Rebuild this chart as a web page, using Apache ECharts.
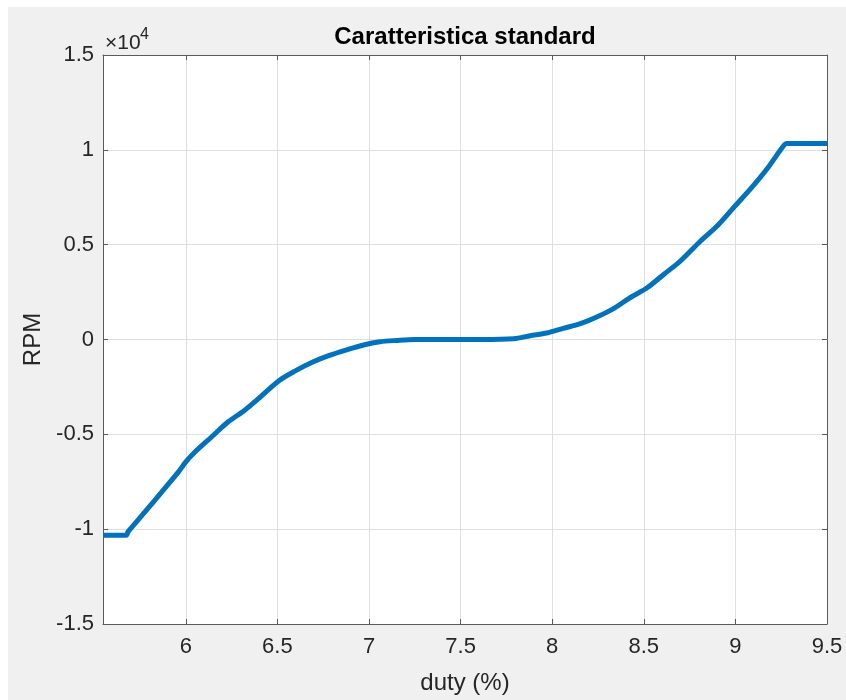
<!DOCTYPE html>
<html>
<head>
<meta charset="utf-8">
<script src="https://cdn.jsdelivr.net/npm/echarts@6/dist/echarts.min.js"></script>
<style>
html,body{margin:0;padding:0;background:#fff;}
#c{width:846px;height:700px;}
</style>
</head>
<body>
<div id="c"></div>
<script>
// Data
const dutyValues = [5.548, 5.60, 5.675, 5.685, 5.778, 5.869, 5.96, 6.00, 6.05, 6.14, 6.23, 6.32, 6.395, 6.51, 6.60, 6.69, 6.78, 6.88, 6.97, 7.06, 7.15, 7.25, 7.40, 7.61, 7.79, 7.88, 7.97, 8.06, 8.15, 8.24, 8.33, 8.42, 8.52, 8.61, 8.70, 8.81, 8.90, 8.99, 9.08, 9.17, 9.26, 9.28, 9.50];
const rpmValues = [-10320, -10320, -10320, -10130, -9080, -8030, -6980, -6450, -5930, -5140, -4350, -3740, -3130, -2160, -1640, -1200, -850, -540, -290, -120, -50, 0, 0, 0, 40, 200, 340, 590, 820, 1170, 1600, 2170, 2740, 3440, 4140, 5190, 5980, 6950, 7910, 8960, 10180, 10330, 10330];
const xTicks = [6, 6.5, 7, 7.5, 8, 8.5, 9, 9.5];
const titleText = 'Caratteristica standard';
const xName = 'duty (%)';
const yName = 'RPM';
const xMin = 5.548, xMax = 9.5, yMin = -15000, yMax = 15000;

const FONT = "'Liberation Sans', Arial, Helvetica, sans-serif";
const axisColor = '#5a5a5a';
const txtColor = '#262626';
const gridColor = '#dfdfdf';

const chart = echarts.init(document.getElementById('c'));
const seriesData = dutyValues.map((d, i) => [d, rpmValues[i]]);

chart.setOption({
  backgroundColor: '#f0f0f0',
  animation: false,
  textStyle: {fontFamily: FONT},
  grid: {left: 103, top: 55, right: 19, bottom: 74, show: true, backgroundColor: '#ffffff', borderWidth: 0},
  graphic: [
    {type: 'rect', left: 0, top: 0, shape: {width: 846, height: 7}, style: {fill: '#ffffff'}, z: -10, silent: true},
    {type: 'rect', left: 0, top: 0, shape: {width: 8, height: 700}, style: {fill: '#ffffff'}, z: -10, silent: true},
    {type: 'text', x: 465, y: 37, style: {text: titleText, font: 'bold 24px ' + FONT, fill: '#000', align: 'center', verticalAlign: 'middle'}},
    {type: 'text', x: 105, y: 43, style: {text: '\u00d710', font: '21px ' + FONT, fill: txtColor, align: 'left', verticalAlign: 'middle'}},
    {type: 'text', x: 140, y: 35, style: {text: '4', font: '16px ' + FONT, fill: txtColor, align: 'left', verticalAlign: 'middle'}}
  ],
  xAxis: [
    {
      type: 'value', min: xMin, max: xMax, position: 'bottom',
      name: xName, nameLocation: 'middle', nameGap: 47,
      nameTextStyle: {fontSize: 24, color: txtColor, fontFamily: FONT},
      axisLine: {show: true, onZero: false, lineStyle: {color: axisColor, width: 1}},
      axisTick: {show: true, inside: true, length: 5, customValues: xTicks, lineStyle: {color: axisColor}},
      axisLabel: {customValues: xTicks, fontSize: 22, color: txtColor, margin: 12, fontFamily: FONT, formatter: v => String(v)},
      splitLine: {show: true, lineStyle: {color: gridColor, width: 1}}
    },
    {
      type: 'value', min: xMin, max: xMax, position: 'top',
      axisLine: {show: true, onZero: false, lineStyle: {color: axisColor, width: 1}},
      axisTick: {show: true, inside: true, length: 5, customValues: xTicks, lineStyle: {color: axisColor}},
      axisLabel: {show: false},
      splitLine: {show: false}
    }
  ],
  yAxis: [
    {
      type: 'value', min: yMin, max: yMax, interval: 5000, position: 'left',
      name: yName, nameLocation: 'middle', nameGap: 56,
      nameTextStyle: {fontSize: 24, color: txtColor, fontFamily: FONT},
      axisLine: {show: true, onZero: false, lineStyle: {color: axisColor, width: 1}},
      axisTick: {show: true, inside: true, length: 5, lineStyle: {color: axisColor}},
      axisLabel: {fontSize: 22, color: txtColor, margin: 9, fontFamily: FONT, formatter: v => String(v / 10000)},
      splitLine: {show: true, lineStyle: {color: gridColor, width: 1}}
    },
    {
      type: 'value', min: yMin, max: yMax, interval: 5000, position: 'right',
      axisLine: {show: true, onZero: false, lineStyle: {color: axisColor, width: 1}},
      axisTick: {show: true, inside: true, length: 5, lineStyle: {color: axisColor}},
      axisLabel: {show: false},
      splitLine: {show: false}
    }
  ],
  series: [{
    type: 'line',
    data: seriesData,
    showSymbol: false,
    smooth: 0.3,
    clip: true,
    lineStyle: {color: '#0072BD', width: 5},
    itemStyle: {color: '#0072BD'}
  }]
});
</script>
</body>
</html>
